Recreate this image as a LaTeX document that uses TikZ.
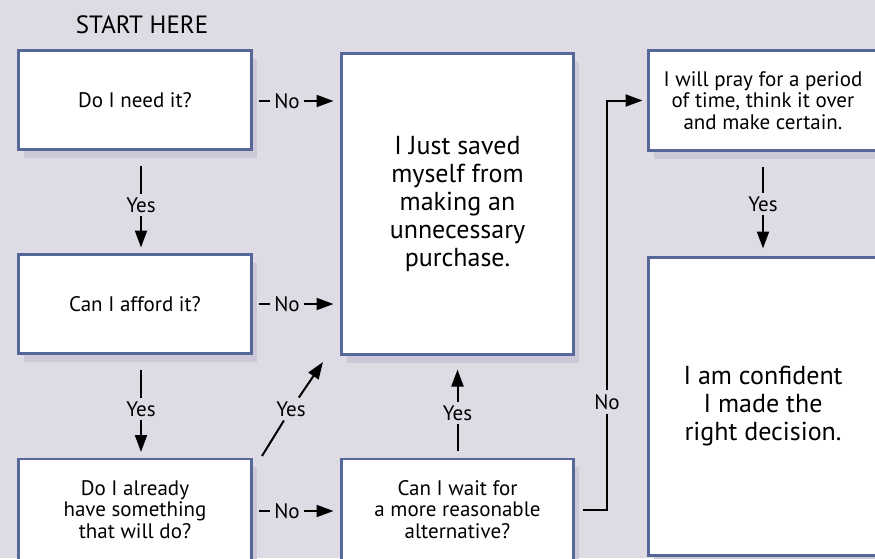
\documentclass[tikz,border=0pt]{standalone}
\usepackage{fontspec}
\setmainfont{PT Sans}
\usetikzlibrary{arrows.meta}
\definecolor{bgcol}{HTML}{DEDBE5}
\definecolor{shadecol}{HTML}{CCC8D8}
\definecolor{edgecol}{HTML}{56679A}
\begin{document}
\begin{tikzpicture}[x=1pt,y=-1pt,
  box/.style={draw=edgecol, line width=2.2pt, fill=white, align=center,
    inner sep=0pt, outer sep=0pt,
    preaction={draw=none, fill=shadecol, transform canvas={xshift=5pt,yshift=-8pt}}},
  small/.style={font=\fontsize{21}{21.7}\selectfont},
  large/.style={font=\fontsize{26}{28}\selectfont},
  lbl/.style={font=\fontsize{21}{21.7}\selectfont, inner xsep=4pt, inner ysep=4pt, outer sep=0pt},
  conn/.style={line width=2pt, black},
  arr/.style={conn, -{Triangle[length=17pt,width=12pt]}}]
\useasboundingbox (0,0) rectangle (875,558);
\fill[bgcol] (0,0) rectangle (875,558);
\clip (0,0) rectangle (875,558);

\node[anchor=base, font=\fontsize{25}{27}\selectfont] (start) at (142,33) {START HERE};

% boxes
\node[box, small, minimum width=233pt, minimum height=99pt] (b1) at (135,100) {Do I need it?};
\node[box, small, minimum width=233pt, minimum height=99pt] (b2) at (135,304) {Can I afford it?};
\node[box, small, minimum width=233pt, minimum height=101pt] (b3) at (135,509.5) {Do I already\\have something\\that will do?};
\node[box, large, minimum width=232pt, minimum height=301pt] (mid) at (457.5,204) {I Just saved\\myself from\\making an\\unnecessary\\purchase.};
\node[box, small, minimum width=232pt, minimum height=101pt] (wait) at (457.5,509.5) {Can I wait for\\a more reasonable\\alternative?};
\node[box, small, minimum width=229pt, minimum height=100pt] (pray) at (763,100.5) {I will pray for a period\\of time, think it over\\and make certain.};
\node[box, large, minimum width=229pt, minimum height=298pt] (conf) at (763,406.5) {I am confident\\I made the\\right decision.};

% No arrows into the middle box
\node[lbl] (no1) at (287,101) {No};
\draw[conn, shorten <=7pt] (b1.east |- no1) -- (no1.west);
\draw[arr, shorten >=8pt] (no1.east) -- (no1 -| mid.west);

\node[lbl] (no2) at (287,304) {No};
\draw[conn, shorten <=7pt] (b2.east |- no2) -- (no2.west);
\draw[arr, shorten >=8pt] (no2.east) -- (no2 -| mid.west);

\node[lbl] (no3) at (287,511) {No};
\draw[conn, shorten <=7pt] (b3.east |- no3) -- (no3.west);
\draw[arr, shorten >=8pt] (no3.east) -- (no3 -| wait.west);

% Yes arrows down the left column
\node[lbl] (y1) at (141,205) {Yes};
\draw[conn, shorten <=16pt] (y1 |- b1.south) -- (y1.north);
\draw[arr, shorten >=7pt] (y1.south) -- (y1 |- b2.north);

\node[lbl] (y2) at (141,409) {Yes};
\draw[conn, shorten <=16pt] (y2 |- b2.south) -- (y2.north);
\draw[arr, shorten >=7pt] (y2.south) -- (y2 |- b3.north);

% diagonal Yes
\coordinate (d0) at (262,456);
\coordinate (d1) at (323,362);
\node[lbl] (yd) at (291,409) {Yes};
\draw[conn] (d0) -- (yd);
\draw[arr] (yd) -- (d1);

% Yes up from wait
\node[lbl] (yw) at (457.5,413) {Yes};
\draw[conn, shorten <=8pt] (wait.north) -- (yw.south);
\draw[arr, shorten >=15pt] (yw.north) -- (mid.south);

% No path to pray
\node[lbl] (nor) at (607,402) {No};
\draw[conn, shorten <=9pt] (wait.east) -| (nor.south);
\draw[arr, shorten >=6pt] (nor.north) |- (pray.west);

% Yes down right column
\node[lbl] (y3) at (763,204) {Yes};
\draw[conn, shorten <=16pt] (pray.south) -- (y3.north);
\draw[arr, shorten >=9pt] (y3.south) -- (conf.north);
\end{tikzpicture}
\end{document}
